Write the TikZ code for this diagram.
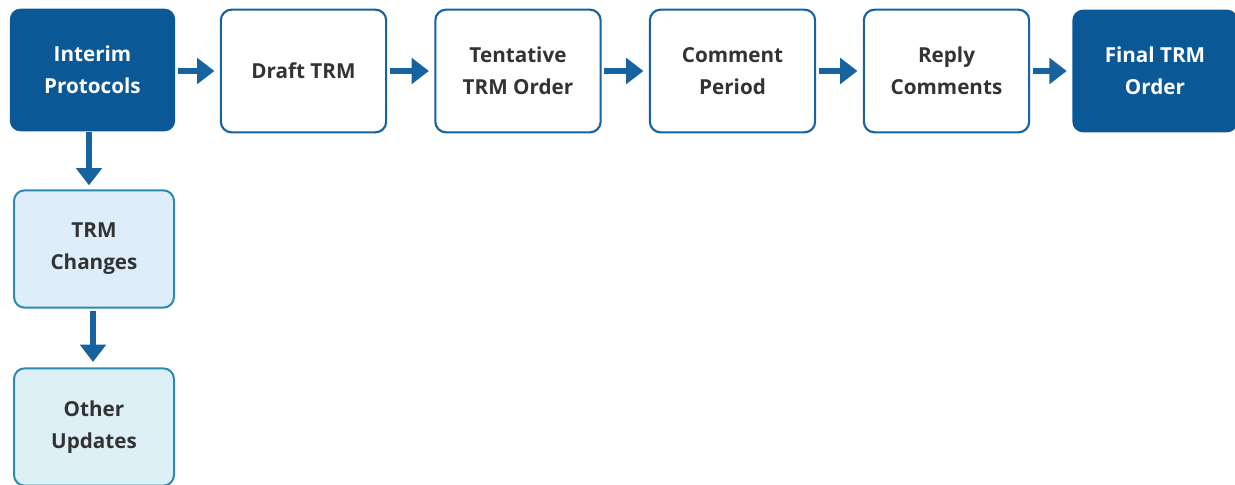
\documentclass[tikz,border=0pt]{standalone}
\usepackage{fontspec}
\setmainfont{Open Sans}
\usetikzlibrary{arrows.meta}
\definecolor{deepblue}{HTML}{0B5896}
\definecolor{flowblue}{HTML}{16639F}
\definecolor{inktext}{HTML}{333333}
\definecolor{paleblue}{HTML}{DDEEFA}
\definecolor{paleteal}{HTML}{DDF0F5}
\definecolor{tealedge}{HTML}{2C8AB2}
\tikzset{
  x=0.75pt, y=-0.75pt,
  stage/.style={rounded corners=8pt, minimum width=124pt, minimum height=92pt,
    align=center, font=\fontsize{15.5}{24}\selectfont\bfseries, inner sep=0pt},
  keybox/.style={stage, fill=deepblue, text=white},
  plainbox/.style={stage, fill=white, draw=flowblue, line width=1.6pt, text=inktext},
  subbox/.style={stage, minimum width=120pt, minimum height=88pt, draw=tealedge,
    line width=1.5pt, text=inktext},
  flow/.style={draw=flowblue, line width=5pt, -{Triangle[length=13pt,width=19pt]}}
}
\begin{document}
\begin{tikzpicture}
\useasboundingbox (0,0) rectangle (1235,485);
% main sequence along the top row
\node[keybox]   (interim)   at (92.5,70)  {Interim\\Protocols};
\node[plainbox] (draft)     at (303.5,71) {Draft TRM};
\node[plainbox] (tentative) at (518,71)   {Tentative\\TRM Order};
\node[plainbox] (comment)   at (732.5,71) {Comment\\Period};
\node[plainbox] (reply)     at (946.5,71) {Reply\\Comments};
\node[keybox]   (final)     at (1155,71)  {Final TRM\\Order};
% side branch below the first stage
\node[subbox, fill=paleblue] (changes) at (94,249) {TRM\\Changes};
\node[subbox, fill=paleteal] (other)   at (94,427) {Other\\Updates};
% connectors
\draw[flow] ([xshift=2pt]interim.east |- 0,71) -- ([xshift=-4pt]draft.west);
\draw[flow] ([xshift=2pt]draft.east) -- ([xshift=-4pt]tentative.west);
\draw[flow] ([xshift=2pt]tentative.east) -- ([xshift=-4pt]comment.west);
\draw[flow] ([xshift=2pt]comment.east) -- ([xshift=-4pt]reply.west);
\draw[flow] ([xshift=2pt]reply.east) -- ([xshift=-4pt]final.west);
\draw[flow] (interim.south -| 89,0) -- ([yshift=3pt]changes.north -| 89,0);
\draw[flow] ([yshift=-2pt]changes.south -| 93,0) -- ([yshift=4pt]other.north -| 93,0);
\end{tikzpicture}
\end{document}
